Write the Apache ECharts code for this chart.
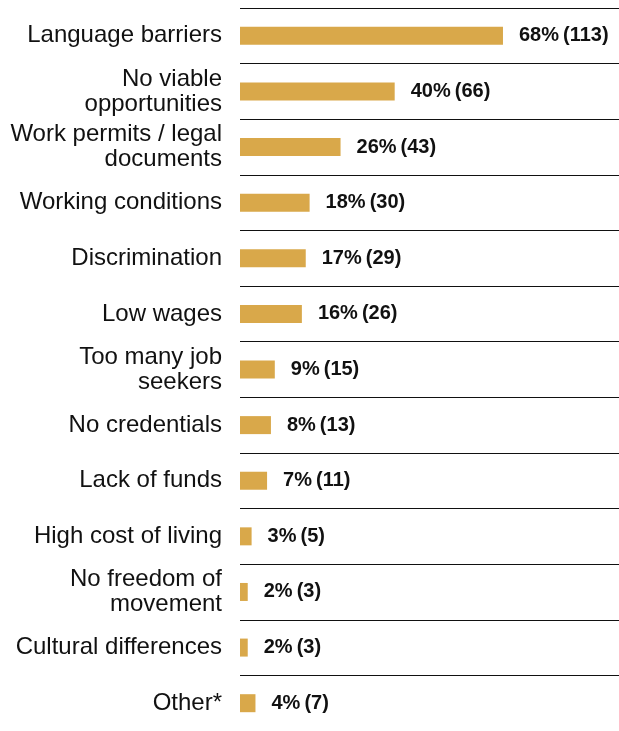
<!DOCTYPE html>
<html>
<head>
<meta charset="utf-8">
<script src="https://cdn.jsdelivr.net/npm/echarts@6/dist/echarts.min.js"></script>
<style>
  html, body { margin: 0; padding: 0; background: #fff; }
  #chart { width: 619px; height: 731px; }
</style>
</head>
<body>
<div id="chart"></div>
<script>
const categories = [
  'Language barriers',
  'No viable\nopportunities',
  'Work permits / legal\ndocuments',
  'Working conditions',
  'Discrimination',
  'Low wages',
  'Too many job\nseekers',
  'No credentials',
  'Lack of funds',
  'High cost of living',
  'No freedom of\nmovement',
  'Cultural differences',
  'Other*'
]
const percents = [68, 40, 26, 18, 17, 16, 9, 8, 7, 3, 2, 2, 4]
const counts = [113, 66, 43, 30, 29, 26, 15, 13, 11, 5, 3, 3, 7]

const font = "'Liberation Sans', Arial, sans-serif"
const chart = echarts.init(document.getElementById('chart'))

const option = {
  animation: false,
  grid: {
    left: 240,
    right: 0,
    top: 8,
    height: 727
  },
  xAxis: {
    type: 'value',
    min: 0,
    max: 98,
    show: false
  },
  yAxis: {
    type: 'category',
    inverse: true,
    data: categories,
    axisLine: { show: false },
    axisTick: { show: false },
    axisLabel: {
      margin: 18,
      fontFamily: font,
      fontSize: 24,
      lineHeight: 25,
      padding: [4, 0, 0, 0],
      color: '#111',
      align: 'right'
    },
    splitLine: {
      show: true,
      lineStyle: { color: '#111', width: 1 }
    }
  },
  series: [{
    type: 'bar',
    data: percents,
    barWidth: 18,
    itemStyle: { color: '#D9A84A' },
    label: {
      show: true,
      position: 'right',
      distance: 16,
      fontFamily: font,
      fontWeight: 'bold',
      fontSize: 20,
      color: '#111',
      formatter: p => p.value + '%\u2009(' + counts[p.dataIndex] + ')'
    }
  }]
}

chart.setOption(option)
</script>
</body>
</html>
